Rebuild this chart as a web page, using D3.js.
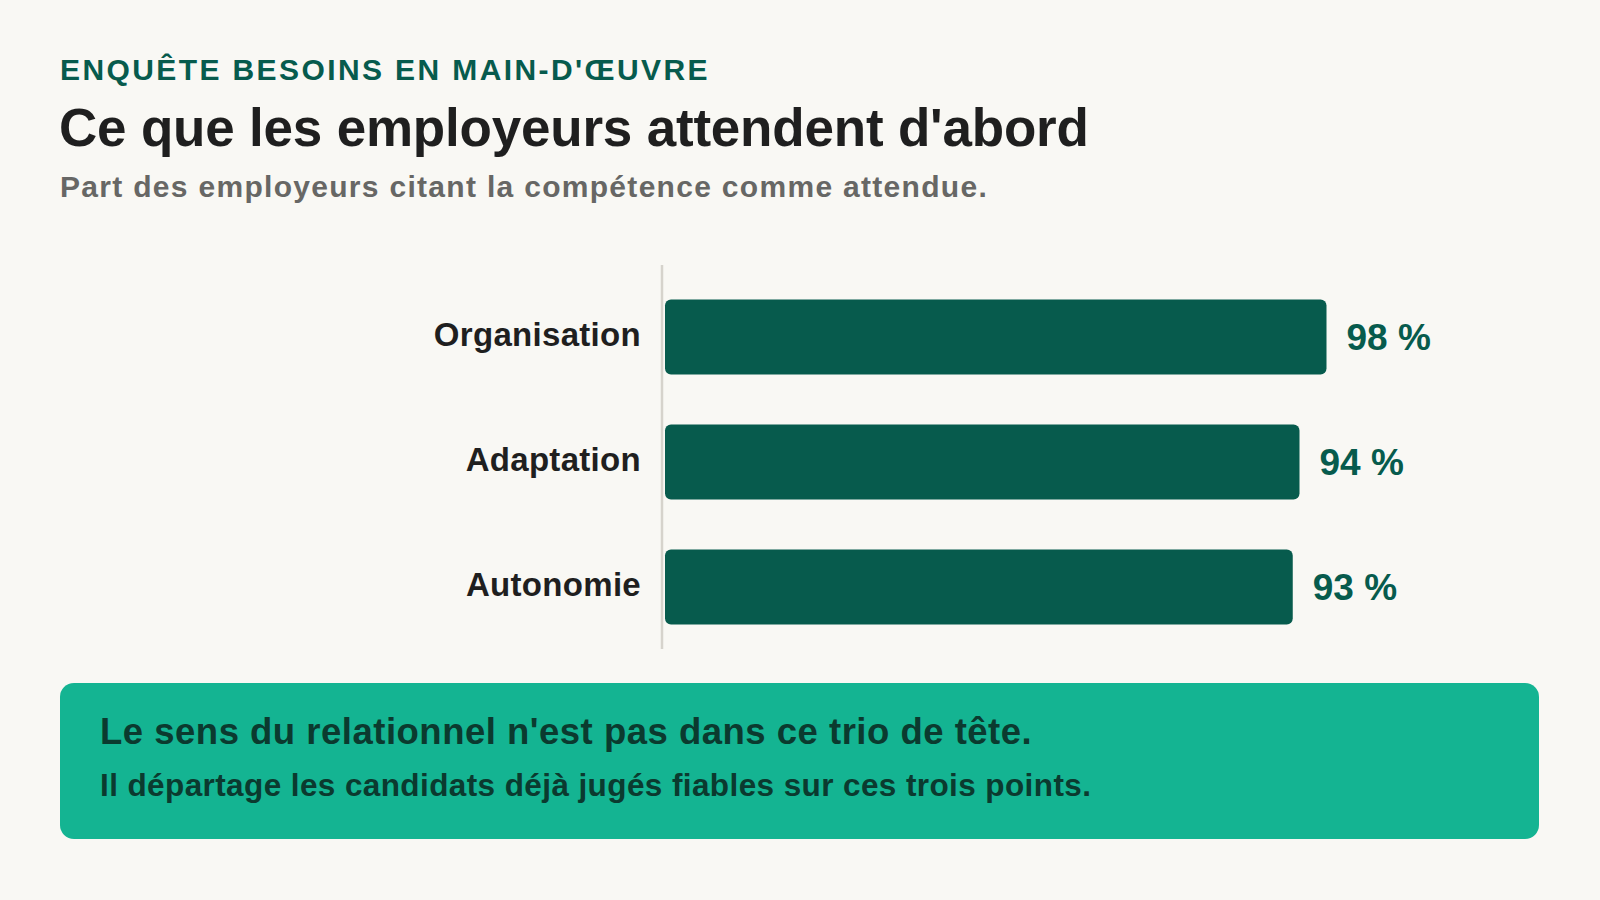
<!doctype html>
<html lang="fr">
<head>
<meta charset="utf-8">
<script src="https://cdn.jsdelivr.net/npm/d3@7"></script>
<style>
html, body { margin: 0; padding: 0; background: #f9f8f4; }
svg { display: block; font-family: "Liberation Sans", Arial, Helvetica, sans-serif; }
</style>
</head>
<body>
<svg id="chart" width="1600" height="900"></svg>
<script>
// données
var categories = ["Organisation", "Adaptation", "Autonomie"];
var values = [98, 94, 93];
var eyebrow = "ENQUÊTE BESOINS EN MAIN-D'ŒUVRE";
var title = "Ce que les employeurs attendent d'abord";
var subtitle = "Part des employeurs citant la compétence comme attendue.";
var calloutLines = [
    "Le sens du relationnel n'est pas dans ce trio de tête.",
    "Il départage les candidats déjà jugés fiables sur ces trois points."
];

var rows = categories.map(function(c, i) { return {name: c, value: values[i]}; });

var svg = d3.select("#chart");
var dark = "#075b4d";

svg.append("rect").attr("width", 1600).attr("height", 900).attr("fill", "#f9f8f4");

// en-tête
svg.append("text")
    .attr("x", 60).attr("y", 80)
    .attr("font-size", 30).attr("font-weight", 700)
    .attr("letter-spacing", 2.4)
    .attr("fill", dark)
    .text(eyebrow);

svg.append("text")
    .attr("x", 59).attr("y", 146)
    .attr("font-size", 53).attr("font-weight", 700)
    .attr("letter-spacing", -0.2)
    .attr("fill", "#1f1f1f")
    .text(title);

svg.append("text")
    .attr("x", 60).attr("y", 197)
    .attr("font-size", 30).attr("font-weight", 700)
    .attr("letter-spacing", 1.3)
    .attr("fill", "#676765")
    .text(subtitle);

// échelles
var x = d3.scaleLinear().domain([0, 100]).range([665, 1340]);
var y = d3.scaleBand().domain(categories).range([262, 662]).paddingInner(0.4).paddingOuter(0.3);

// axe vertical
svg.append("line")
    .attr("x1", 662).attr("x2", 662)
    .attr("y1", 265).attr("y2", 649)
    .attr("stroke", "#d6d3cc").attr("stroke-width", 2.5);

var g = svg.append("g");

g.selectAll("rect.bar")
    .data(rows)
  .enter().append("rect")
    .attr("class", "bar")
    .attr("x", x(0))
    .attr("y", function(d) { return y(d.name); })
    .attr("width", function(d) { return x(d.value) - x(0); })
    .attr("height", y.bandwidth())
    .attr("rx", 6).attr("ry", 6)
    .attr("fill", dark);

g.selectAll("text.label")
    .data(rows)
  .enter().append("text")
    .attr("class", "label")
    .attr("x", 641)
    .attr("y", function(d) { return y(d.name) + y.bandwidth() / 2 + 9; })
    .attr("text-anchor", "end")
    .attr("font-size", 33).attr("font-weight", 700)
    .attr("letter-spacing", 0.3)
    .attr("fill", "#1f1f1f")
    .text(function(d) { return d.name; });

g.selectAll("text.value")
    .data(rows)
  .enter().append("text")
    .attr("class", "value")
    .attr("x", function(d) { return x(d.value) + 20; })
    .attr("y", function(d) { return y(d.name) + y.bandwidth() / 2 + 13; })
    .attr("font-size", 37).attr("font-weight", 700)
    .attr("fill", dark)
    .text(function(d) { return d.value + " %"; });

// encadré
svg.append("rect")
    .attr("x", 60).attr("y", 683)
    .attr("width", 1479).attr("height", 156)
    .attr("rx", 14).attr("ry", 14)
    .attr("fill", "#14b492");

svg.selectAll("text.callout")
    .data(calloutLines)
  .enter().append("text")
    .attr("class", "callout")
    .attr("x", 100)
    .attr("y", function(d, i) { return i === 0 ? 744 : 796; })
    .attr("font-size", function(d, i) { return i === 0 ? 36.5 : 31.5; })
    .attr("letter-spacing", function(d, i) { return i === 0 ? 0.5 : 0.4; })
    .attr("font-weight", 700)
    .attr("fill", "#0b3a2f")
    .text(function(d) { return d; });
</script>
</body>
</html>
